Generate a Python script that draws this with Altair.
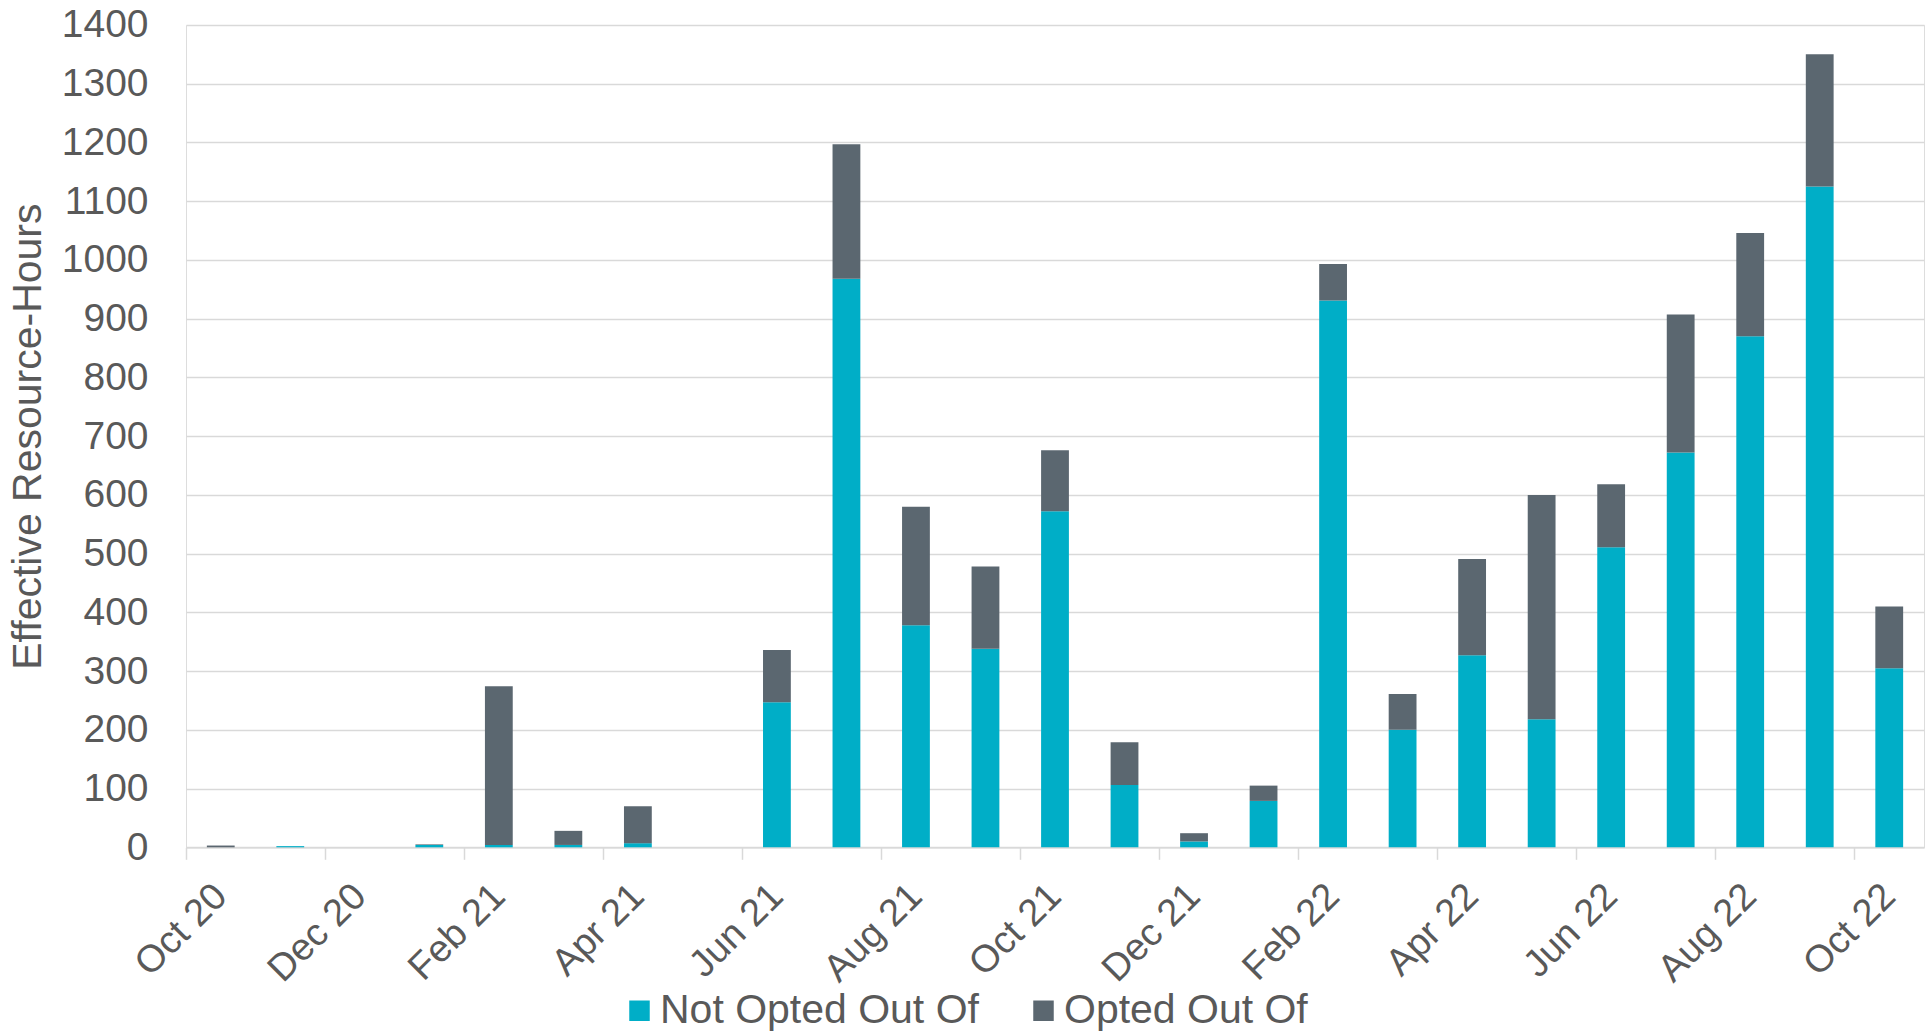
import altair as alt
import pandas as pd

months = ["Oct 20", "Nov 20", "Dec 20", "Jan 21", "Feb 21", "Mar 21", "Apr 21", "May 21",
          "Jun 21", "Jul 21", "Aug 21", "Sep 21", "Oct 21", "Nov 21", "Dec 21", "Jan 22",
          "Feb 22", "Mar 22", "Apr 22", "May 22", "Jun 22", "Jul 22", "Aug 22", "Sep 22", "Oct 22"]
not_opted = [0, 2, 0, 4, 4, 4, 7, 0, 247, 968, 378, 338, 572, 106, 10, 79,
             931, 200, 327, 218, 511, 672, 870, 1125, 305]
opted = [3, 0, 0, 1, 270, 24, 63, 0, 89, 229, 202, 140, 104, 73, 14, 26,
         62, 61, 164, 382, 107, 235, 176, 225, 105]
series = ["Not Opted Out Of", "Opted Out Of"]
colors = ["#00AEC7", "#5B6770"]
y_ticks = list(range(0, 1401, 100))
x_tick_labels = months[::2]

rows = []
for i, m in enumerate(months):
    rows.append({"month": m, "series": series[0], "value": not_opted[i], "k": 0})
    rows.append({"month": m, "series": series[1], "value": opted[i], "k": 1})
df = pd.DataFrame(rows)

W = 1738
H = 822.3
step = W / len(months)
FONT = "Liberation Sans"
TXT = "#595959"
GRID = "#D9D9D9"

chart = alt.Chart(df).mark_bar().encode(
    x=alt.X("month:N", sort=months,
            scale=alt.Scale(paddingInner=0.6, paddingOuter=0.3),
            axis=alt.Axis(title=None, values=x_tick_labels, labelAngle=-45,
                          labelAlign="right", labelBaseline="middle",
                          labelFontSize=38, labelColor=TXT, labelFont=FONT,
                          labelPadding=31, labelOverlap=False,
                          bandPosition=0.5, tickOffset=-step / 2, labelOffset=step / 2,
                          ticks=True, tickSize=12, tickColor=GRID, tickWidth=1.5,
                          domain=True, domainColor=GRID, domainWidth=1.5, grid=False)),
    y=alt.Y("value:Q", stack="zero",
            scale=alt.Scale(domain=[0, 1400], nice=False),
            axis=alt.Axis(title="Effective Resource-Hours", values=y_ticks, format="d",
                          labelFontSize=39, labelColor=TXT, labelFont=FONT,
                          labelPadding=38, ticks=False, domain=False,
                          grid=True, gridColor=GRID, gridWidth=1.5,
                          titleFontSize=41, titleFont=FONT, titleColor=TXT,
                          titleFontWeight="normal", titlePadding=12)),
    color=alt.Color("series:N", sort=series,
                    scale=alt.Scale(domain=series, range=colors),
                    legend=alt.Legend(title=None, orient="none", direction="horizontal",
                                      legendX=433, legendY=965,
                                      symbolType="square", symbolSize=420,
                                      symbolStrokeWidth=0, symbolOpacity=1,
                                      labelFontSize=41, labelFont=FONT, labelColor=TXT,
                                      labelOffset=0, columnPadding=43, padding=0,
                                      labelLimit=1000)),
    order=alt.Order("k:Q", sort="ascending"),
).properties(
    width=W, height=H,
    autosize=alt.AutoSizeParams(type="none"),
    padding={"left": 186, "top": 25, "right": 5, "bottom": 185},
).configure_view(stroke=None).configure(background="white")

chart.save("out.html", embed_options={"renderer": "svg", "actions": False})
